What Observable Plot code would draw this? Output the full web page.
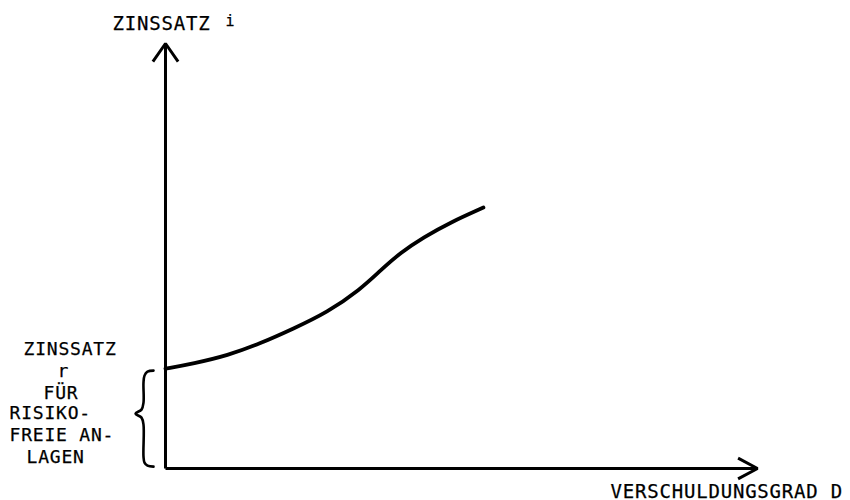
<!DOCTYPE html>
<html>
<head>
<meta charset="utf-8">
<script src="https://cdn.jsdelivr.net/npm/d3@7"></script>
<script src="https://cdn.jsdelivr.net/npm/@observablehq/plot@0.6"></script>
<style>
  html, body { margin: 0; padding: 0; background: #fff; }
  #chart svg { display: block; }
</style>
</head>
<body>
<div id="chart"></div>
<script>
// --- Data ---
const debtRatio    = [0, 0.47, 1.05, 1.60, 2.16, 2.73, 3.29, 3.63, 3.97, 4.36, 4.81, 5.37];
const interestRate = [2.35, 2.47, 2.66, 2.94, 3.29, 3.67, 4.21, 4.66, 5.08, 5.44, 5.79, 6.14];
const riskFreeRate = 2.35;
const axisMax = 10;

const yAxisLabel = ["ZINSSATZ", "i"];
const xAxisLabel = "VERSCHULDUNGSGRAD D";
const riskFreeLabel = ["ZINSSATZ", "r", "FÜR", "RISIKO-", "FREIE AN-", "LAGEN"];

// --- Layout ---
const W = 850, H = 500;
const mL = 165, mR = 93, mT = 43, mB = 32;
const pxX = (W - mL - mR) / axisMax;   // pixels per x unit
const pxY = (H - mT - mB) / axisMax;   // pixels per y unit

const curve = debtRatio.map((d, i) => ({x: d, y: interestRate[i]}));

// brace spanning from 0 up to the risk-free rate (shape in pixel offsets)
const braceCenter = -22; // px left of the y-axis
const braceShape = [[10,2],[4,3],[1,7],[0,14],[0,34],[-2,41],[-8,45],[-2,49],[0,56],[0,88],[1,94],[4,97],[10,98]];
const rPix = riskFreeRate * pxY;
const brace = braceShape.map(([ox, oy]) => ({
  x: (braceCenter + ox) / pxX,
  y: (rPix - oy) / pxY
}));

const font = "DejaVu Sans Mono";
const lineDx = [-142, -108, -122, -156, -156, -139];
const lineDy = [-14, 8, 30, 50, 72, 94];
const ink = {fill: "#000", stroke: "#000", strokeWidth: 0.25, fontFamily: font};

const plot = Plot.plot({
  width: W,
  height: H,
  marginLeft: mL,
  marginRight: mR,
  marginTop: mT,
  marginBottom: mB,
  x: {domain: [0, axisMax], axis: null},
  y: {domain: [0, axisMax], axis: null},
  style: {fontFamily: font, background: "#fff", overflow: "visible"},
  marks: [
    // y axis with arrow
    Plot.arrow([{x1: 0, y1: 0, x2: 0, y2: axisMax}], {
      x1: "x1", y1: "y1", x2: "x2", y2: "y2",
      stroke: "#000", strokeWidth: 3, headLength: 11, headAngle: 70, strokeLinecap: "butt"
    }),
    // x axis with arrow
    Plot.arrow([{x1: 0, y1: 0, x2: axisMax, y2: 0}], {
      x1: "x1", y1: "y1", x2: "x2", y2: "y2",
      stroke: "#000", strokeWidth: 3, headLength: 11, headAngle: 56, strokeLinecap: "butt"
    }),
    // interest rate curve
    Plot.line(curve, {x: "x", y: "y", curve: "basis", stroke: "#000", strokeWidth: 3.8, strokeLinecap: "round"}),
    // brace
    Plot.line(brace, {x: "x", y: "y", curve: "catmull-rom", stroke: "#000", strokeWidth: 2.6, strokeLinecap: "round"}),
    // y axis label
    Plot.text([yAxisLabel[0]], {x: 0, y: axisMax, text: d => d, textAnchor: "start", lineAnchor: "bottom",
      dx: -53, dy: -14, fontSize: 19, ...ink}),
    Plot.text([yAxisLabel[1]], {x: 0, y: axisMax, text: d => d, textAnchor: "start", lineAnchor: "bottom",
      dx: 60, dy: -18, fontSize: 15, ...ink}),
    // x axis label
    Plot.text([xAxisLabel], {x: axisMax, y: 0, text: d => d, textAnchor: "start", lineAnchor: "bottom",
      dx: -147, dy: 29, fontSize: 19, ...ink}),
    // risk-free label block
    ...riskFreeLabel.map((t, i) => Plot.text([t], {
      x: 0, y: riskFreeRate, text: d => d, textAnchor: "start", lineAnchor: "bottom",
      dx: lineDx[i], dy: lineDy[i], fontSize: 18, ...ink
    }))
  ]
});

plot.querySelectorAll("text").forEach(t => t.style.letterSpacing = "0.8px");
document.getElementById("chart").appendChild(plot);
</script>
</body>
</html>
